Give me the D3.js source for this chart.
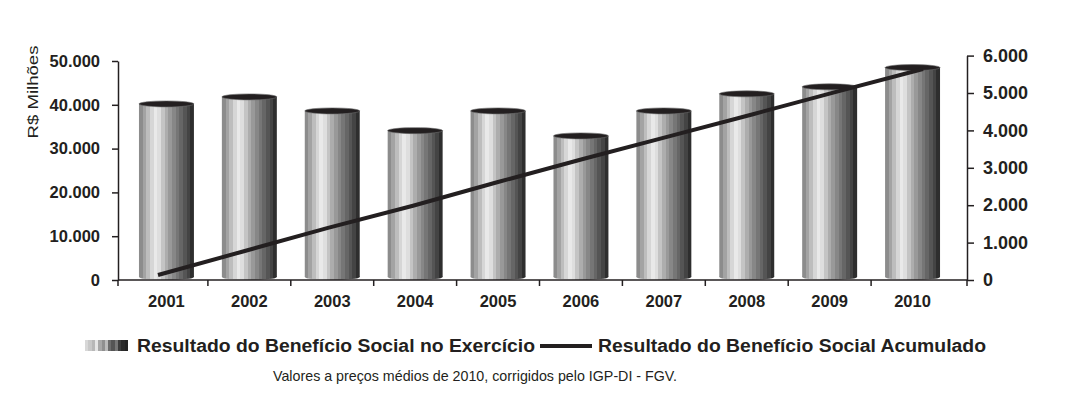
<!DOCTYPE html>
<html>
<head>
<meta charset="utf-8">
<script src="https://cdn.jsdelivr.net/npm/d3@7"></script>
<style>
  body { margin: 0; background: #fff; }
  svg { display: block; font-family: "Liberation Sans", Arial, Helvetica, sans-serif; }
</style>
</head>
<body>
<div id="chart"></div>
<script>
// dados
const anos = ["2001", "2002", "2003", "2004", "2005", "2006", "2007", "2008", "2009", "2010"];
const exercicio = [40200, 41800, 38600, 34100, 38600, 32900, 38600, 42500, 44100, 48500];
const acumulado = [134, 762, 1393, 1984, 2620, 3235, 3832, 4433, 5043, 5642];
const ticksEsq = [0, 10000, 20000, 30000, 40000, 50000];
const ticksDir = [0, 1000, 2000, 3000, 4000, 5000, 6000];
const nomeBarras = "Resultado do Benefício Social no Exercício";
const nomeLinha = "Resultado do Benefício Social Acumulado";
const tituloY = "R$ Milhões";
const nota = "Valores a preços médios de 2010, corrigidos pelo IGP-DI - FGV.";

const W = 1080, H = 394;
const escuro = "#231f20";
const axL = 118, axR = 967, y0 = 280;

const br = d3.formatLocale({ decimal: ",", thousands: ".", grouping: [3], currency: ["R$", ""] });
const fmt = br.format(",d");

const svg = d3.select("#chart").append("svg")
    .attr("width", W)
    .attr("height", H);

// gradiente listrado do cilindro
const faixas = ["#8c8c8c", "#a3a3a3", "#bdbdbd", "#d6d6d6", "#e9e9e9", "#dedede", "#c4c4c4",
                "#adadad", "#999999", "#878787", "#767676", "#666666", "#555555", "#444444", "#2e2e2e"];
const defs = svg.append("defs");
function listrado(id, cores) {
    const g = defs.append("linearGradient").attr("id", id)
        .attr("x1", "0%").attr("x2", "100%").attr("y1", "0%").attr("y2", "0%");
    cores.forEach((c, i) => {
        g.append("stop").attr("offset", (i / cores.length * 100) + "%").attr("stop-color", c);
        g.append("stop").attr("offset", ((i + 1) / cores.length * 100) + "%").attr("stop-color", c);
    });
}
listrado("cil", faixas);
listrado("leg", ["#d8d8d8", "#c8c8c8", "#b8b8b8", "#e6e6e6", "#a8a8a8", "#909090", "#bbbbbb",
                 "#6c6c6c", "#555555", "#777777", "#3c3c3c", "#2a2a2a", "#232323"]);

const x = d3.scaleBand()
    .domain(anos)
    .range([125, 954])
    .paddingInner(0.337)
    .paddingOuter(0.1685);

const xl = d3.scalePoint()
    .domain(anos)
    .range([158, 923]);

const yE = d3.scaleLinear().domain([0, 50000]).range([y0, 61]);
const yD = d3.scaleLinear().domain([0, 6000]).range([y0, 55.6]);

// cilindros
const ry = 3;
const bw = x.bandwidth();
const cil = svg.append("g").selectAll("g")
    .data(anos.map((a, i) => ({ ano: a, v: exercicio[i] })))
    .enter().append("g");

cil.append("rect")
    .attr("x", d => x(d.ano))
    .attr("y", d => yE(d.v))
    .attr("width", bw)
    .attr("height", d => yE(0) - ry - yE(d.v))
    .attr("fill", "url(#cil)");

cil.append("ellipse")
    .attr("cx", d => x(d.ano) + bw / 2)
    .attr("cy", yE(0) - ry)
    .attr("rx", bw / 2)
    .attr("ry", ry)
    .attr("fill", "url(#cil)");

cil.append("ellipse")
    .attr("cx", d => x(d.ano) + bw / 2)
    .attr("cy", d => yE(d.v))
    .attr("rx", bw / 2)
    .attr("ry", ry)
    .attr("fill", escuro)
    .attr("stroke", "#6a6a6a")
    .attr("stroke-width", 0.6);

// linha acumulada
svg.append("path")
    .datum(anos.map((a, i) => ({ ano: a, v: acumulado[i] })))
    .attr("fill", "none")
    .attr("stroke", escuro)
    .attr("stroke-width", 4)
    .attr("d", d3.line().x(d => xl(d.ano)).y(d => yD(d.v)));

// eixos
const eixoE = svg.append("g")
    .attr("transform", `translate(${axL},0)`)
    .call(d3.axisLeft(yE).tickValues(ticksEsq).tickFormat(fmt).tickSize(6).tickSizeOuter(0).tickPadding(12));

const eixoD = svg.append("g")
    .attr("transform", `translate(${axR},0)`)
    .call(d3.axisRight(yD).tickValues(ticksDir).tickFormat(fmt).tickSize(7).tickSizeOuter(0).tickPadding(9));

// eixo x: linha e marcas nas divisões das categorias
const divs = [axL].concat(anos.slice(1).map(a => x(a) - x.step() * x.paddingInner() / 2), [axR]);
const eixoX = svg.append("g");
eixoX.append("line")
    .attr("x1", axL).attr("x2", axR)
    .attr("y1", y0).attr("y2", y0)
    .attr("stroke", escuro).attr("stroke-width", 1.5);
eixoX.selectAll(".tk")
    .data(divs)
    .enter().append("line")
    .attr("class", "tk")
    .attr("x1", d => d).attr("x2", d => d)
    .attr("y1", y0).attr("y2", y0 + 6)
    .attr("stroke", escuro).attr("stroke-width", 1.5);
eixoX.selectAll(".lb")
    .data(anos)
    .enter().append("text")
    .attr("class", "lb")
    .attr("x", d => x(d) + bw / 2)
    .attr("y", 307)
    .attr("text-anchor", "middle")
    .style("font-size", "16.5px")
    .style("font-weight", "bold")
    .style("fill", escuro)
    .text(d => d);

[eixoE, eixoD].forEach(g => {
    g.selectAll(".domain").attr("stroke", escuro).attr("stroke-width", 1.5);
    g.selectAll(".tick line").attr("stroke", escuro).attr("stroke-width", 1.5);
    g.selectAll(".tick text")
        .style("font-family", "\"Liberation Sans\", Arial, sans-serif")
        .style("font-size", "16.5px")
        .style("font-weight", "bold")
        .style("fill", escuro);
});
eixoD.selectAll(".tick text").style("font-size", "18px");

// título do eixo y
svg.append("text")
    .attr("transform", "translate(38,92) rotate(-90)")
    .attr("text-anchor", "middle")
    .attr("textLength", 93)
    .attr("lengthAdjust", "spacingAndGlyphs")
    .style("font-size", "15.5px")
    .style("fill", escuro)
    .text(tituloY);

// legenda
const leg = svg.append("g");
leg.append("rect")
    .attr("x", 85).attr("y", 340)
    .attr("width", 43).attr("height", 11)
    .attr("fill", "url(#leg)");
leg.append("text")
    .attr("x", 137).attr("y", 352)
    .attr("textLength", 398)
    .attr("lengthAdjust", "spacingAndGlyphs")
    .style("font-size", "17.5px")
    .style("font-weight", "bold")
    .style("fill", escuro)
    .text(nomeBarras);
leg.append("line")
    .attr("x1", 540).attr("x2", 592)
    .attr("y1", 346).attr("y2", 346)
    .attr("stroke", escuro).attr("stroke-width", 4);
leg.append("text")
    .attr("x", 598).attr("y", 352)
    .attr("textLength", 388)
    .attr("lengthAdjust", "spacingAndGlyphs")
    .style("font-size", "17.5px")
    .style("font-weight", "bold")
    .style("fill", escuro)
    .text(nomeLinha);

svg.append("text")
    .attr("x", 273).attr("y", 381)
    .attr("textLength", 404)
    .attr("lengthAdjust", "spacingAndGlyphs")
    .style("font-size", "14.8px")
    .style("fill", escuro)
    .text(nota);
</script>
</body>
</html>
